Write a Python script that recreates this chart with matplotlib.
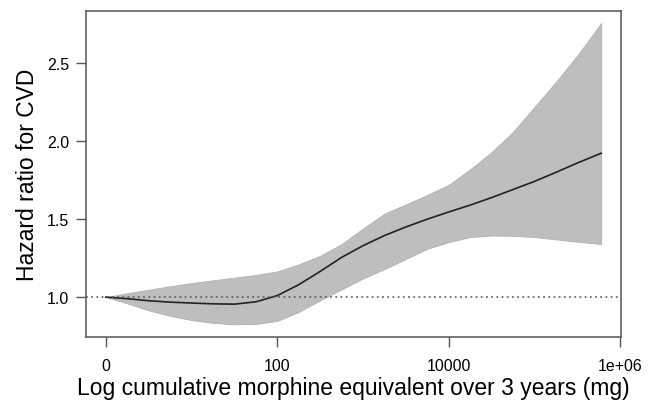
import matplotlib.pyplot as plt

plt.rcParams['font.family'] = ['Liberation Sans', 'DejaVu Sans']

# log10 cumulative dose positions and the estimated curve with its CI band
log_dose = [0, 0.25, 0.5, 0.75, 1.0, 1.25, 1.5, 1.75, 2.0, 2.25, 2.5, 2.75,
            3.0, 3.25, 3.5, 3.75, 4.0, 4.25, 4.5, 4.75, 5.0, 5.25, 5.5, 5.776]
hr = [1.000, 0.990, 0.977, 0.968, 0.962, 0.957, 0.955, 0.970, 1.010, 1.080,
      1.165, 1.255, 1.330, 1.395, 1.450, 1.500, 1.546, 1.590, 1.638, 1.690,
      1.742, 1.800, 1.860, 1.922]
hr_upper = [1.000, 1.025, 1.047, 1.070, 1.090, 1.108, 1.125, 1.142, 1.165,
            1.210, 1.265, 1.340, 1.440, 1.535, 1.595, 1.655, 1.720, 1.820,
            1.930, 2.060, 2.220, 2.380, 2.550, 2.756]
hr_lower = [1.000, 0.960, 0.915, 0.880, 0.853, 0.835, 0.826, 0.828, 0.848,
            0.905, 0.980, 1.050, 1.120, 1.180, 1.245, 1.310, 1.353, 1.385,
            1.395, 1.393, 1.385, 1.370, 1.355, 1.340]

xtick_pos = [0, 2, 4, 6]
xtick_labels = ["0", "100", "10000", "1e+06"]
ytick_pos = [1.0, 1.5, 2.0, 2.5]

fig = plt.figure(figsize=(6.58, 4.02), dpi=100)
ax = fig.add_axes([0.1307, 0.159, 0.8131, 0.811])

ax.fill_between(log_dose, hr_lower, hr_upper, color="#bebebe", linewidth=0.6,
                edgecolor="#b0b0b0")
ax.plot(log_dose, hr, color="#222222", linewidth=1.2)
ax.axhline(1.0, color="#555555", linestyle=(0, (1.2, 2.2)), linewidth=1.1)

ax.set_xlim(-0.231, 6.007)
ax.set_ylim(0.744, 2.833)
ax.set_xticks(xtick_pos)
ax.set_xticklabels(xtick_labels)
ax.set_yticks(ytick_pos)
ax.set_yticklabels(["%.1f" % v for v in ytick_pos])

for s in ax.spines.values():
    s.set_color("#555555")
    s.set_linewidth(1.1)
ax.tick_params(axis="both", length=7, width=1.0, color="#555555",
               labelsize=11.5, pad=5)
ax.tick_params(axis="x", pad=8)

ax.set_xlabel("Log cumulative morphine equivalent over 3 years (mg)",
              fontsize=16.5, labelpad=2)
ax.set_ylabel("Hazard ratio for CVD", fontsize=16.5, labelpad=6)

fig.savefig("out.png", dpi=100)
